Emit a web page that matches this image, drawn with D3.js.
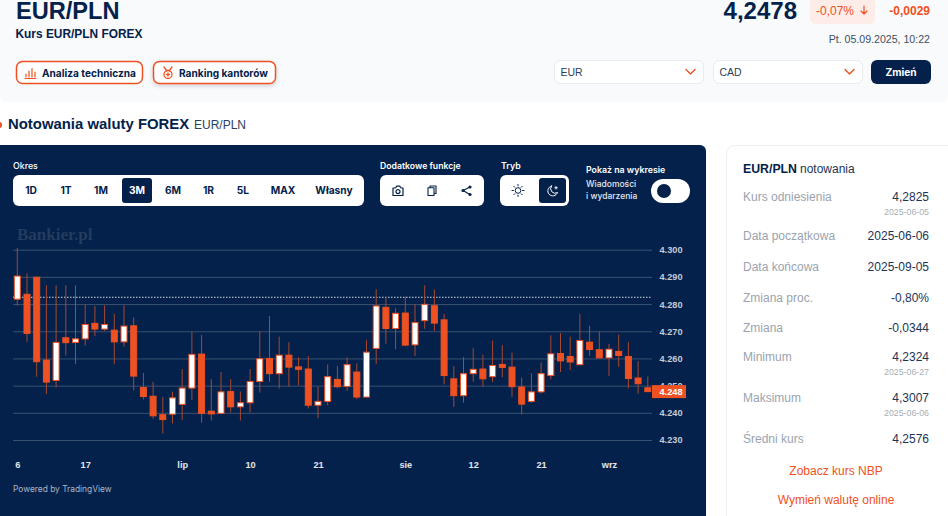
<!DOCTYPE html>
<html>
<head>
<meta charset="utf-8">
<title>EUR/PLN</title>
<script src="https://cdn.jsdelivr.net/npm/d3@7"></script>
<style>
	html, body { margin: 0; padding: 0; background: #fff; overflow: hidden; }
	svg { display: block; }
	text { font-family: "Liberation Sans", Arial, sans-serif; }
	.ui { font-family: Inter, "Liberation Sans", sans-serif; }
</style>
</head>
<body>
<svg id="page" width="948" height="516"></svg>
<script>
var dates = ["06-06","06-09","06-10","06-11","06-12","06-13","06-16","06-17","06-18","06-19","06-20",
	"06-23","06-24","06-25","06-26","06-27","06-30","07-01","07-02","07-03","07-04",
	"07-07","07-08","07-09","07-10","07-11","07-14","07-15","07-16","07-17","07-18",
	"07-21","07-22","07-23","07-24","07-25","07-28","07-29","07-30","07-31","08-01",
	"08-04","08-05","08-06","08-07","08-08","08-11","08-12","08-13","08-14","08-15",
	"08-18","08-19","08-20","08-21","08-22","08-25","08-26","08-27","08-28","08-29",
	"09-01","09-02","09-03","09-04","09-05"];
var opens = [4.2818,4.2836,4.2899,4.2594,4.2519,4.2676,4.2659,4.2672,4.2729,4.2708,4.2704,
	4.2661,4.2720,4.2493,4.2461,4.2393,4.2395,4.2431,4.2491,4.2616,4.2406,
	4.2398,4.2478,4.2422,4.2437,4.2515,4.2600,4.2544,4.2612,4.2569,4.2561,
	4.2428,4.2442,4.2523,4.2497,4.2550,4.2458,4.2637,4.2788,4.2710,4.2767,
	4.2650,4.2739,4.2794,4.2742,4.2525,4.2463,4.2544,4.2561,4.2533,4.2578,
	4.2568,4.2495,4.2442,4.2477,4.2537,4.2618,4.2607,4.2577,4.2660,4.2632,
	4.2602,4.2626,4.2607,4.2528,4.2492];
var highs = [4.3007,4.2913,4.2899,4.2869,4.2869,4.2869,4.2869,4.2799,4.2793,4.2795,4.2764,
	4.2795,4.2751,4.2547,4.2514,4.2458,4.2478,4.2561,4.2698,4.2686,4.2524,
	4.2550,4.2524,4.2478,4.2561,4.2701,4.2756,4.2680,4.2660,4.2605,4.2609,
	4.2495,4.2578,4.2572,4.2605,4.2582,4.2667,4.2855,4.2825,4.2785,4.2827,
	4.2800,4.2869,4.2853,4.2764,4.2572,4.2605,4.2638,4.2613,4.2666,4.2649,
	4.2622,4.2530,4.2545,4.2585,4.2685,4.2693,4.2680,4.2764,4.2720,4.2699,
	4.2654,4.2688,4.2660,4.2590,4.2534];
var lows = [4.2795,4.2661,4.2533,4.2469,4.2493,4.2611,4.2580,4.2647,4.2682,4.2701,4.2580,
	4.2643,4.2482,4.2449,4.2378,4.2324,4.2361,4.2374,4.2447,4.2363,4.2372,
	4.2398,4.2401,4.2372,4.2401,4.2474,4.2514,4.2490,4.2496,4.2501,4.2416,
	4.2380,4.2427,4.2490,4.2481,4.2450,4.2456,4.2580,4.2654,4.2634,4.2645,
	4.2609,4.2709,4.2701,4.2505,4.2422,4.2437,4.2514,4.2496,4.2513,4.2531,
	4.2459,4.2394,4.2437,4.2471,4.2523,4.2550,4.2557,4.2577,4.2610,4.2602,
	4.2535,4.2569,4.2490,4.2470,4.2476];
var closes = [4.2903,4.2692,4.2588,4.2513,4.2659,4.2658,4.2672,4.2725,4.2708,4.2725,4.2661,
	4.2719,4.2535,4.2460,4.2389,4.2375,4.2455,4.2491,4.2615,4.2398,4.2396,
	4.2477,4.2422,4.2437,4.2515,4.2599,4.2544,4.2612,4.2568,4.2560,4.2428,
	4.2442,4.2533,4.2496,4.2577,4.2458,4.2623,4.2793,4.2710,4.2766,4.2649,
	4.2732,4.2799,4.2730,4.2537,4.2463,4.2544,4.2560,4.2525,4.2574,4.2567,
	4.2496,4.2432,4.2477,4.2544,4.2617,4.2591,4.2587,4.2666,4.2633,4.2602,
	4.2634,4.2611,4.2526,4.2507,4.2478];

var priceTicks = [4.30, 4.29, 4.28, 4.27, 4.26, 4.25, 4.24, 4.23];
var dateTicks = ["06-06","06-17","07-01","07-10","07-21","08-01","08-12","08-21","09-01"];
var dateLabels = ["6","17","lip","10","21","sie","12","21","wrz"];
var refPrice = 4.2825;
var lastPrice = 4.2478;

var periods = ["1D","1T","1M","3M","6M","1R","5L","MAX","Własny"];
var periodX = [31,66,101,137,173,208.5,243,283,334];
var rowLabels = ["Kurs odniesienia","Data początkowa","Data końcowa","Zmiana proc.","Zmiana","Minimum","Maksimum","Średni kurs"];
var rowValues = ["4,2825","2025-06-06","2025-09-05","-0,80%","-0,0344","4,2324","4,3007","4,2576"];
var rowDates = ["2025-06-05","","","","","2025-06-27","2025-06-06",""];
var rowY = [201,240,271,302,332,361,402,443];

var navy = "#03214a", orange = "#ee5122", white = "#fff";
var svg = d3.select("#page");

function rect(g, x, y, w, h, r, fill, stroke, sw) {
	return g.append("rect").attr("x", x).attr("y", y).attr("width", w).attr("height", h)
		.attr("rx", r).attr("fill", fill).attr("stroke", stroke || "none").attr("stroke-width", sw || 0);
}
function label(g, x, y, s, size, weight, fill, anchor, cls) {
	return g.append("text").attr("x", x).attr("y", y).text(s)
		.attr("class", cls || null)
		.style("font-size", size + "px").style("font-weight", weight)
		.attr("fill", fill).attr("text-anchor", anchor || "start");
}
function icon(g, x, y, d, color, sw) {
	return g.append("path").attr("transform", "translate(" + x + "," + y + ")").attr("d", d)
		.attr("fill", "none").attr("stroke", color).attr("stroke-width", sw || 1.2)
		.attr("stroke-linecap", "round").attr("stroke-linejoin", "round");
}

// shadow for the second button
var defs = svg.append("defs");
var f = defs.append("filter").attr("id", "sh").attr("x", "-10%").attr("y", "-30%").attr("width", "120%").attr("height", "170%");
f.append("feDropShadow").attr("dx", 0).attr("dy", 1.5).attr("stdDeviation", 2).attr("flood-color", "#03214a").attr("flood-opacity", 0.2);

// header
var head = svg.append("g");
rect(head, 0, -10, 948, 112, 6, "#f9fafb");
label(head, 16, 19, "EUR/PLN", 23.6, 700, navy);
label(head, 15.5, 38, "Kurs EUR/PLN FOREX", 11.9, 700, navy);

rect(head, 16.5, 61.5, 126, 22, 6, white, orange, 1.5);
rect(head, 153.5, 61.5, 122, 22, 6, white, orange, 1.5).attr("filter", "url(#sh)");
label(head, 42, 76.5, "Analiza techniczna", 10.15, 700, navy, "start", "ui");
label(head, 179, 76.5, "Ranking kantorów", 10.15, 700, navy, "start", "ui");
icon(head, 25, 67, "M1 10V7M4 10V4M7 10V1.5M10 10V5M0 11.5H11", orange, 1.2);
icon(head, 162, 66, "M2 1L5 5M10 1L7 5M6 12.5a4 4 0 1 0 0-8a4 4 0 0 0 0 8zM6 7v3M4.5 8.5h3", orange, 1.3);

label(head, 797, 19, "4,2478", 24, 700, navy, "end");
rect(head, 810, -8, 65, 32, 6, "#fdece8");
label(head, 816, 14.5, "-0,07%", 12, 400, orange);
icon(head, 860, 6, "M4 0V8M1 5L4 8L7 5", orange, 1.2);
label(head, 930, 15, "-0,0029", 12, 700, orange, "end");
label(head, 930, 43, "Pt. 05.09.2025, 10:22", 10.6, 400, "#3d4f66", "end");

[[554, "EUR"], [713, "CAD"]].forEach(function(s) {
	rect(head, s[0] + 0.5, 60.5, 149, 23, 6, white, "#e8eaed", 1);
	label(head, s[0] + 6.5, 76, s[1], 10.5, 400, "#2a3f5c");
	icon(head, s[0] + 132, 69.5, "M0 0L4.5 4.5L9 0", orange, 1.4);
});
rect(head, 871, 60, 60, 24, 6, navy);
label(head, 901, 75.5, "Zmień", 10.2, 700, white, "middle", "ui");

// section title
rect(svg, -3, 122, 5, 6, 2.5, orange);
label(svg, 8, 129, "Notowania waluty FOREX", 14.9, 700, navy);
label(svg, 194, 129, "EUR/PLN", 12, 400, "#2a3f5c");

// chart panel
var panel = svg.append("g");
rect(panel, -8, 145, 714, 400, 6, navy);

label(panel, 13, 169, "Okres", 8.8, 500, white, "start", "ui");
rect(panel, 13, 175, 351, 31, 6, white);
rect(panel, 122, 178, 30, 25, 3, navy);
periods.forEach(function(p, i) {
	label(panel, periodX[i], 194, p, 10.2, 700, p == "3M" ? white : navy, "middle", "ui");
});

label(panel, 380, 169, "Dodatkowe funkcje", 8.7, 600, white, "start", "ui");
rect(panel, 380, 175, 104, 31, 6, white);
icon(panel, 392, 185, "M1 3H3.5L4.8 1.2H7.7L9 3H11V10.5H1zM6 8.6a2 2 0 1 0 0-4a2 2 0 0 0 0 4z", navy, 1.2);
icon(panel, 427, 185, "M3 2.5V1H9V8.5H7.2M1 2.8H7V10.5H1z", navy, 1.1);
icon(panel, 461, 185.5, "M9 1.5L2 5L9 9", navy, 1.1);
[[470, 187], [463, 190.5], [470, 194.5]].forEach(function(c) {
	panel.append("circle").attr("cx", c[0]).attr("cy", c[1]).attr("r", 1.6).attr("fill", navy);
});

label(panel, 501, 169, "Tryb", 8.8, 600, white, "start", "ui");
rect(panel, 500, 175, 69, 31, 6, white);
rect(panel, 539, 178, 27, 25, 3, navy);
panel.append("circle").attr("cx", 518).attr("cy", 190.5).attr("r", 2.8).attr("fill", "none").attr("stroke", navy);
icon(panel, 518, 190.5, "M0-6V-4.6M0 6V4.6M-6 0H-4.6M6 0H4.6M-4.2-4.2L-3.2-3.2M4.2 4.2L3.2 3.2M-4.2 4.2L-3.2 3.2M4.2-4.2L3.2-3.2", navy, 1);
icon(panel, 547, 185, "M4.5 1a5 5 0 1 0 6 6.5a4.5 4.5 0 0 1-6-6.5zM9 1.5v2.5M7.8 2.8h2.5", white, 1);

label(panel, 586, 173, "Pokaż na wykresie", 8.8, 600, white, "start", "ui");
label(panel, 586, 187, "Wiadomości", 8.5, 500, "#e6e9ee", "start", "ui");
label(panel, 586, 199, "i wydarzenia", 8.5, 500, "#e6e9ee", "start", "ui");
rect(panel, 651, 179, 39, 24, 12, white);
panel.append("circle").attr("cx", 664).attr("cy", 191).attr("r", 7).attr("fill", navy);

label(panel, 17, 240, "Bankier.pl", 17, 700, "#243c5e").style("font-family", "'Liberation Serif', serif");

// chart
var y = d3.scaleLinear().domain([4.23, 4.30]).range([440, 249.7]);
var x = d3.scalePoint().domain(dates).range([17.3, 647.8]);
var gridLeft = 13, gridRight = 652;

var yAxis = d3.axisRight(y).tickValues(priceTicks)
	.tickSize(gridLeft - gridRight).tickPadding(7.5)
	.tickFormat(d3.format(".3f"));
var gy = panel.append("g").attr("transform", "translate(" + gridRight + ",0)").call(yAxis);
gy.select(".domain").remove();
gy.selectAll("line").attr("stroke", "#3a5070").attr("stroke-width", 1);
gy.selectAll("text").style("font-size", "9.2px").style("font-weight", 700).attr("fill", "#c5cbd5");

var xAxis = d3.axisBottom(x).tickValues(dateTicks).tickSize(0)
	.tickFormat(function(d) { return dateLabels[dateTicks.indexOf(d)]; });
var gx = panel.append("g").attr("transform", "translate(0,458)").call(xAxis);
gx.select(".domain").remove();
gx.selectAll("text").style("font-size", "9.2px").style("font-weight", 700).attr("fill", "#e4e7ec");

panel.append("line").attr("x1", gridLeft).attr("x2", gridRight)
	.attr("y1", y(refPrice)).attr("y2", y(refPrice))
	.attr("stroke", "#d5dae2").attr("stroke-width", 1).attr("stroke-dasharray", "1.5 1.5");

var candles = panel.append("g").selectAll("g").data(dates).enter().append("g");
candles.append("line")
	.attr("x1", function(d) { return x(d); }).attr("x2", function(d) { return x(d); })
	.attr("y1", function(d, i) { return y(highs[i]); })
	.attr("y2", function(d, i) { return y(lows[i]); })
	.attr("stroke", "#a8482e").attr("stroke-width", 1);
candles.append("rect")
	.attr("x", function(d) { return x(d) - 3; })
	.attr("width", 6)
	.attr("y", function(d, i) { return y(Math.max(opens[i], closes[i])); })
	.attr("height", function(d, i) { return Math.abs(y(opens[i]) - y(closes[i])); })
	.attr("fill", function(d, i) { return closes[i] >= opens[i] ? white : orange; })
	.attr("stroke", orange).attr("stroke-width", 1);

rect(panel, gridRight, y(lastPrice) - 6.5, 34, 13, 0, orange);
label(panel, gridRight + 7.5, y(lastPrice) + 3.3, d3.format(".3f")(lastPrice), 9.2, 700, white);

label(panel, 13, 492, "Powered by TradingView", 8.4, 400, "#aeb7c4", "start", "ui");

// side card
var card = svg.append("g");
rect(card, 726.5, 145.5, 240, 400, 8, white, "#eceef1", 1);
label(card, 743, 173, "EUR/PLN", 12.3, 700, navy);
label(card, 800, 173, "notowania", 12, 400, "#1c3454");
rowLabels.forEach(function(s, i) {
	label(card, 743, rowY[i], s, 12, 400, "#9aa3af");
	label(card, 929, rowY[i], rowValues[i], 12, 400, "#1c3454", "end");
	if (rowDates[i]) label(card, 929, rowY[i] + 14, rowDates[i], 8.8, 400, "#a6adb8", "end");
});
label(card, 836, 475, "Zobacz kurs NBP", 12, 400, orange, "middle");
label(card, 836, 504, "Wymień walutę online", 12, 400, orange, "middle");
</script>
</body>
</html>
